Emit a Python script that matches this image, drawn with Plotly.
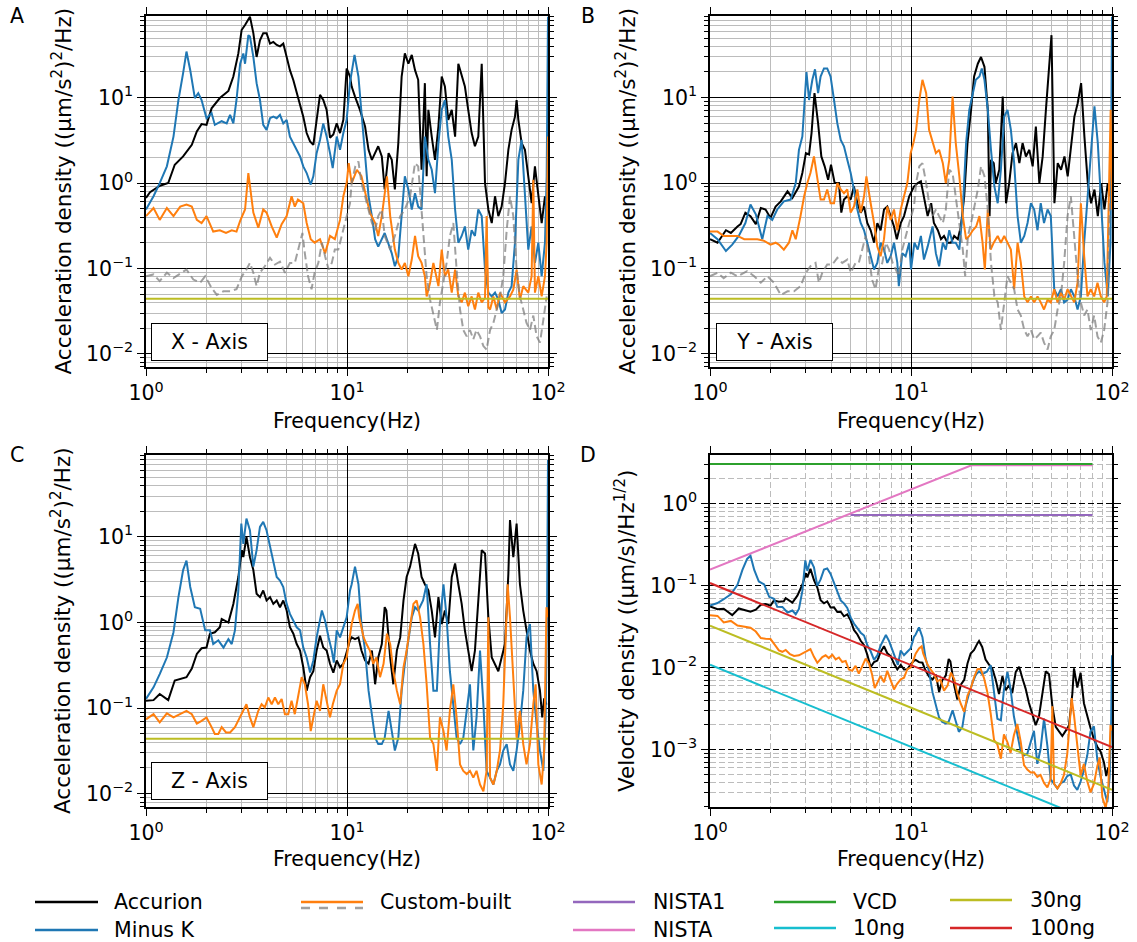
import numpy as np
import plotly.graph_objects as go

W, H = 1137, 942
FONT = "DejaVu Sans"

# line colours
C_ACC = "#000000"
C_MINK = "#1f77b4"
C_CUST = "#ff7f0e"
C_CUST2 = "rgba(128,128,128,0.75)"
C_NISTA1 = "#9467bd"
C_NISTA = "#e377c2"
C_VCD = "#2ca02c"
C_10 = "#17becf"
C_30 = "#bcbd22"
C_100 = "#d62728"

# ---------------- X axis: acceleration PSD ((um/s^2)^2/Hz), (frequency Hz, value) ----------------
x_accurion = [(1.0,0.67),(1.047,0.78),(1.174,0.93),(1.29,1.0),(1.39,1.64),(1.53,2.05),(1.69,2.81),(1.79,4.02),(1.89,4.9),(2.0,4.8),
    (2.12,7.5),(2.33,9.9),(2.57,12),(2.72,17.7),(2.88,33),(2.99,62),(3.11,71),(3.29,89),(3.42,57),(3.55,30),(3.69,47),(3.83,57),
    (3.98,57),(4.14,43),(4.3,45),(4.47,41.5),(4.64,40),(4.82,43),(5.01,30),(5.2,21),(5.41,16),(5.62,11.3),(5.84,8.6),(6.06,6.0),
    (6.3,3.85),(6.55,3.07),(6.8,2.8),(7.06,5.5),(7.34,10.8),(7.62,9.4),(7.92,7.2),(8.23,3.4),(8.55,3.7),(8.89,5.0),(9.23,3.85),
    (9.59,5.5),(9.96,22),(10.35,17.7),(10.55,13.5),(10.96,10.3),(11.6,7.2),(12.3,4.6),(12.8,2.45),(13.3,1.87),(13.8,2.24),(14.3,2.7),
    (14.9,2.05),(15.4,0.84),(16.1,2.24),(16.7,1.87),(17.3,0.84),(18.0,2.94),(18.7,17.7),(19.4,33),(20.2,25),(21.0,31.7),(21.8,21),
    (22.6,16.2),(23.5,1.43),(24.4,14.8),(24.9,1.2),(25.4,7.2),(26.4,3.5),(27.4,1.87),(28.5,4.6),(29.6,17.7),(30.7,13.5),(31.9,5.5),
    (33.2,7.2),(34.5,3.5),(35.8,25),(37.2,17.7),(38.6,13.5),(40.1,7.2),(41.7,3.85),(43.3,2.7),(45.0,3.5),(46.8,25),(48.6,1.0),
    (50.5,0.49),(52.5,0.34),(54.5,0.70),(56.6,0.41),(58.8,0.53),(61.1,1.0),(63.5,2.45),(65.9,4.2),(68.5,6.0),(69.8,9.4),(71.2,5.5),
    (73.9,2.94),(76.8,2.45),(79.8,1.2),(82.9,0.58),(86.1,1.57),(89.5,0.70),(93.0,0.34),(96.6,0.70),(99.6,0.41)]

x_minusk = [(1.0,0.49),(1.09,0.70),(1.17,1.0),(1.27,1.57),(1.37,3.5),(1.45,9.4),(1.53,19.4),(1.59,34.7),(1.66,21),(1.75,9.9),
    (1.82,11.3),(1.89,9.4),(2.0,5.75),(2.12,6.6),(2.2,4.8),(2.38,5.3),(2.52,5.0),(2.62,6.3),(2.72,5.0),(2.82,9.4),(2.94,25),(3.05,33),
    (3.11,25),(3.23,54),(3.29,52),(3.42,30),(3.55,14.8),(3.69,9.4),(3.83,4.8),(3.98,4.2),(4.14,5.75),(4.3,6.0),(4.47,5.75),(4.64,6.3),
    (4.82,5.0),(5.01,5.5),(5.2,3.5),(5.41,2.94),(5.62,2.45),(5.84,2.05),(6.06,1.57),(6.3,1.31),(6.6,0.96),(6.8,1.2),(7.06,2.24),
    (7.34,3.2),(7.62,5.0),(7.92,3.5),(8.23,2.24),(8.49,1.5),(8.89,3.5),(9.23,2.45),(9.59,3.85),(9.96,5.5),(10.35,15),(10.9,31.7),
    (11.4,17.7),(11.8,6.6),(12.3,2.24),(12.8,0.70),(13.3,0.41),(13.8,0.22),(14.3,0.18),(14.9,0.22),(15.4,0.26),(16.7,0.15),
    (17.3,0.106),(18.0,0.139),(18.7,0.41),(19.4,1.2),(20.2,0.84),(21.0,0.49),(21.8,0.76),(22.6,0.53),(23.5,0.49),(24.4,3.5),
    (25.4,1.87),(26.4,1.43),(27.4,0.76),(28.5,2.94),(29.6,7.2),(30.7,9.4),(31.9,3.5),(33.2,1.87),(34.5,0.49),(35.8,0.2),(37.2,0.24),
    (38.6,0.31),(40.1,0.166),(41.7,0.28),(43.3,0.24),(45.0,0.49),(46.8,0.41),(48.6,0.097),(50.5,0.052),(52.5,0.047),(54.5,0.052),
    (56.6,0.043),(58.8,0.030),(61.1,0.033),(63.5,0.052),(65.9,0.062),(68.5,0.2),(71.2,1.87),(73.9,3.2),(76.8,0.70),(79.8,0.166),
    (82.9,0.31),(86.1,0.116),(89.5,0.2),(93.0,0.081),(96.6,0.2),(98.5,1.2),(100,89)]

x_custom = [(1.0,0.41),(1.09,0.51),(1.17,0.37),(1.27,0.51),(1.37,0.41),(1.48,0.53),(1.59,0.56),(1.69,0.53),(1.79,0.37),(1.89,0.34),
    (2.0,0.41),(2.16,0.27),(2.33,0.28),(2.5,0.26),(2.67,0.28),(2.82,0.27),(2.94,0.36),(3.11,0.49),(3.23,1.31),(3.29,0.91),(3.42,0.45),
    (3.62,0.30),(3.83,0.49),(3.98,0.45),(4.22,0.31),(4.47,0.23),(4.73,0.33),(5.01,0.41),(5.3,0.70),(5.5,0.53),(5.7,0.64),(6.06,0.58),
    (6.3,0.34),(6.6,0.22),(6.9,0.2),(7.34,0.22),(7.78,0.15),(8.23,0.24),(8.7,0.22),(9.23,0.37),(9.59,0.70),(9.96,1.0),(10.2,1.71),
    (10.55,1.0),(11.2,1.43),(11.8,1.2),(12.3,0.76),(13.0,0.45),(13.8,0.34),(14.3,0.24),(14.9,0.41),(15.8,1.2),(16.4,0.41),(17.3,0.166),
    (18.0,0.116),(18.7,0.097),(19.4,0.116),(20.2,0.081),(21.0,0.127),(21.8,0.24),(22.6,0.139),(23.5,0.116),(24.4,0.081),(24.9,0.047),
    (25.9,0.068),(26.9,0.116),(28.5,0.062),(29.6,0.166),(30.7,0.081),(31.9,0.097),(33.2,0.052),(34.5,0.097),(35.8,0.047),(37.2,0.040),
    (38.6,0.052),(40.1,0.036),(41.7,0.047),(43.3,0.033),(45.0,0.052),(46.8,0.040),(48.6,0.045),(49.5,0.41),(50.5,0.035),(51.5,0.033),
    (53.5,0.047),(55.6,0.033),(57.7,0.052),(61.1,0.040),(64.7,0.047),(67.2,0.0565),(69.8,0.097),(72.5,0.043),(75.3,0.062),(79.8,0.052),
    (82.9,0.081),(84.5,1.09),(86.1,0.052),(89.5,0.081),(93.0,0.047),(96.6,0.081),(98.5,0.2),(100,3.5)]

x_custom_alt = [(1.0,0.081),(1.09,0.085),(1.17,0.071),(1.27,0.089),(1.37,0.077),(1.59,0.097),(1.72,0.074),(1.86,0.068),(1.97,0.081),
    (2.12,0.059),(2.25,0.049),(2.43,0.054),(2.62,0.054),(2.82,0.057),(3.0,0.081),(3.16,0.097),(3.29,0.116),(3.42,0.089),(3.55,0.062),
    (3.69,0.089),(3.9,0.106),(4.14,0.133),(4.38,0.111),(4.64,0.12),(4.91,0.089),(5.2,0.116),(5.5,0.116),(5.7,0.166),(6.0,0.26),
    (6.17,0.15),(6.4,0.081),(6.66,0.057),(6.9,0.089),(7.2,0.116),(7.5,0.2),(7.78,0.139),(8.1,0.097),(8.4,0.116),(8.7,0.166),
    (9.05,0.166),(9.4,0.24),(9.8,0.34),(10.35,0.58),(10.55,1.0),(11.0,1.57),(11.4,1.79),(11.8,1.0),(12.3,0.70),(12.8,0.49),(13.3,0.34),
    (13.8,0.28),(14.3,0.41),(14.9,0.49),(15.4,0.24),(16.4,0.166),(17.3,0.24),(18.4,0.41),(19.4,0.49),(20.6,0.70),(21.8,1.71),
    (22.6,1.57),(23.5,0.49),(24.9,0.081),(25.9,0.043),(26.9,0.028),(28.0,0.019),(29.0,0.040),(30.2,0.068),(31.3,0.116),(32.5,0.24),
    (33.8,0.34),(35.1,0.097),(36.5,0.033),(37.9,0.019),(39.4,0.016),(40.9,0.019),(42.5,0.0148),(44.1,0.019),(45.9,0.016),(47.7,0.0123),
    (49.5,0.0112),(51.5,0.019),(53.5,0.023),(55.6,0.033),(57.7,0.047),(59.9,0.081),(62.3,0.28),(64.7,0.70),(67.2,0.41),(69.8,0.097),
    (72.5,0.047),(75.3,0.033),(78.2,0.023),(81.3,0.019),(84.5,0.028),(87.8,0.016),(91.2,0.0135),(94.8,0.025),(98.5,0.047)]

# ---------------- Y axis ----------------
y_accurion = [(1.0,0.22),(1.09,0.2),(1.2,0.28),(1.27,0.26),(1.37,0.31),(1.42,0.33),(1.5,0.45),(1.59,0.41),(1.69,0.33),(1.79,0.51),
    (1.89,0.49),(2.0,0.39),(2.12,0.53),(2.25,0.61),(2.43,0.8),(2.57,0.67),(2.77,0.91),(2.88,1.31),(3.0,2.24),(3.11,2.16),(3.2,3.85),
    (3.31,11.3),(3.45,5.0),(3.58,2.05),(3.72,1.57),(3.87,1.09),(4.0,1.64),(4.17,1.0),(4.38,1.0),(4.5,0.45),(4.64,0.64),(4.82,0.7),
    (5.01,0.64),(5.2,0.91),(5.41,0.58),(5.62,0.45),(5.84,0.53),(6.06,0.34),(6.3,0.28),(6.55,0.2),(6.8,0.34),(7.06,0.28),(7.34,0.49),
    (7.62,0.53),(7.92,0.41),(8.23,0.31),(8.5,0.22),(8.89,0.34),(9.23,0.41),(9.8,0.7),(10.35,0.91),(10.8,1.0),(11.2,1.05),(11.6,0.70),
    (12.1,0.41),(12.6,0.58),(13.0,0.34),(13.6,0.28),(14.1,0.22),(14.6,0.24),(15.2,0.2),(15.8,0.2),(16.4,0.24),(17.1,0.22),(17.7,0.31),
    (18.4,0.70),(19.1,2.94),(19.9,7.2),(20.6,17.7),(21.5,25),(22.3,30),(23.2,23),(24.1,7.2),(24.6,0.41),(25.0,1.87),(25.8,1.71),
    (26.4,1.0),(27.5,1.43),(28.6,10.3),(29.7,0.58),(30.8,1.0),(32.0,2.24),(33.3,2.94),(34.6,1.71),(35.9,2.94),(37.3,2.05),(38.8,2.45),
    (40.3,1.57),(41.8,4.6),(43.5,1.0),(45.2,2.05),(46.9,7.2),(48.8,25),(50.0,54),(51.7,0.58),(53.7,1.71),(55.8,1.43),(58.0,2.05),
    (60.2,1.2),(62.6,2.94),(65.0,6.0),(67.5,8.6),(70.2,14.8),(72.9,3.5),(75.8,1.0),(78.7,0.58),(81.8,0.84),(85.0,0.41),(88.3,1.0),
    (91.7,0.49),(95.3,1.0),(97.6,0.7)]

y_minusk = [(1.0,0.26),(1.09,0.22),(1.2,0.16),(1.29,0.19),(1.39,0.24),(1.5,0.34),(1.59,0.56),(1.69,0.43),(1.82,0.22),(1.93,0.41),
    (2.04,0.37),(2.16,0.49),(2.33,0.61),(2.52,0.64),(2.67,1.0),(2.77,2.45),(2.88,3.5),(2.94,7.2),(3.02,20),(3.11,9.4),(3.23,16.2),
    (3.33,21.5),(3.45,11.3),(3.55,17.7),(3.69,22),(3.83,22),(3.98,17.7),(4.14,9.4),(4.3,5.0),(4.47,3.2),(4.64,2.7),(4.82,1.87),
    (5.01,1.31),(5.2,0.84),(5.41,0.49),(5.62,0.34),(5.84,0.28),(6.06,0.2),(6.3,0.139),(6.55,0.097),(6.8,0.116),(7.06,0.2),(7.34,0.166),
    (7.62,0.116),(7.92,0.139),(8.23,0.2),(8.55,0.116),(8.7,0.062),(9.05,0.15),(9.4,0.139),(9.8,0.2),(10.0,0.097),(10.4,0.2),(10.8,0.166),
    (11.2,0.24),(11.6,0.127),(12.1,0.18),(12.8,0.31),(13.3,0.15),(13.8,0.106),(14.4,0.2),(14.9,0.166),(15.5,0.28),(16.1,0.2),(16.7,0.2),
    (17.4,0.166),(18.1,0.49),(18.8,2.94),(19.5,7.2),(20.3,11.3),(21.0,16.2),(21.9,17.7),(22.5,22),(23.2,16.2),(24.1,7.2),(25.0,2.45),
    (26.0,0.91),(27.0,0.58),(28.0,1.43),(29.1,6.0),(30.2,7.2),(31.4,4.2),(32.6,1.71),(33.9,0.41),(35.2,0.2),(36.6,0.24),(38.0,0.34),
    (39.5,0.58),(41.0,0.49),(42.6,0.28),(44.2,0.58),(45.9,0.34),(47.8,0.49),(49.6,0.41),(51.6,0.057),(53.6,0.047),(55.7,0.057),
    (57.8,0.040),(60.1,0.043),(62.4,0.057),(64.9,0.047),(67.4,0.033),(70.0,0.047),(72.7,0.2),(77.2,1.2),(81.8,7.9),(85.0,2.94),
    (88.3,0.49),(91.7,0.116),(95.3,0.047),(98.3,0.2),(100,89)]

y_custom = [(1.0,0.27),(1.09,0.27),(1.17,0.24),(1.27,0.24),(1.37,0.24),(1.48,0.22),(1.59,0.22),(1.72,0.22),(1.86,0.21),(2.0,0.19),
    (2.12,0.2),(2.2,0.19),(2.33,0.166),(2.47,0.2),(2.57,0.28),(2.67,0.22),(2.82,0.41),(2.94,0.7),(3.05,1.0),(3.16,1.31),(3.29,2.05),
    (3.42,1.2),(3.55,0.64),(3.69,0.64),(3.83,0.84),(3.98,0.58),(4.14,0.58),(4.3,1.0),(4.47,0.84),(4.64,0.76),(4.82,0.84),(5.01,0.45),
    (5.2,0.53),(5.41,0.84),(5.62,0.45),(5.84,0.7),(6.0,1.2),(6.3,0.58),(6.55,0.34),(6.8,0.18),(7.06,0.139),(7.34,0.22),(7.62,0.53),
    (7.92,0.37),(8.23,0.49),(8.55,0.28),(8.89,0.49),(9.23,0.7),(9.59,1.0),(9.96,2.24),(10.3,3.0),(10.6,4.2),(11.0,9.4),(11.4,16.2),
    (11.9,11.3),(12.3,4.2),(12.8,2.94),(13.3,2.24),(13.8,2.45),(14.4,1.71),(14.9,1.0),(15.5,1.87),(16.1,10.3),(16.7,2.94),(17.4,1.2),
    (18.1,0.41),(18.8,0.22),(19.5,0.24),(20.3,0.28),(21.1,0.31),(21.9,0.41),(22.7,0.2),(23.3,0.097),(24.1,0.49),(24.9,0.166),
    (25.8,0.2),(27.0,0.24),(28.0,0.2),(29.1,0.24),(30.2,0.2),(31.4,0.166),(32.6,0.057),(33.9,0.2),(35.2,0.116),(36.6,0.047),
    (38.0,0.040),(39.5,0.047),(41.0,0.040),(42.6,0.047),(44.2,0.040),(45.9,0.033),(47.8,0.043),(49.6,0.040),(51.6,0.057),(53.6,0.040),
    (55.7,0.052),(57.8,0.043),(60.1,0.057),(62.4,0.047),(64.9,0.040),(67.4,0.068),(70.0,0.58),(72.7,0.139),(75.5,0.047),(78.4,0.057),
    (81.5,0.047),(84.7,0.068),(88.0,0.047),(91.4,0.040),(94.2,0.047),(96.9,1.2),(98.5,7.2),(100,0.49)]

y_custom_alt = [(1.0,0.081),(1.09,0.089),(1.17,0.077),(1.27,0.089),(1.37,0.081),(1.53,0.093),(1.66,0.081),(1.79,0.068),(1.93,0.081),
    (2.08,0.068),(2.25,0.049),(2.43,0.054),(2.62,0.054),(2.82,0.062),(3.0,0.089),(3.16,0.106),(3.35,0.116),(3.48,0.068),(3.62,0.089),
    (3.83,0.111),(4.06,0.111),(4.3,0.133),(4.55,0.116),(4.82,0.127),(5.01,0.089),(5.3,0.116),(5.5,0.116),(5.7,0.166),(5.95,0.24),
    (6.17,0.139),(6.4,0.074),(6.66,0.057),(6.9,0.097),(7.2,0.116),(7.5,0.2),(7.78,0.166),(8.1,0.116),(8.4,0.097),(8.7,0.081),
    (9.05,0.166),(9.4,0.24),(9.8,0.34),(10.35,0.53),(10.6,1.0),(11.0,1.57),(11.4,1.71),(11.9,1.0),(12.3,0.58),(12.8,0.41),(13.3,0.49),
    (13.8,0.41),(14.4,0.34),(14.9,0.49),(15.5,1.43),(16.1,1.31),(16.7,0.7),(17.4,0.34),(18.1,0.166),(18.6,0.081),(19.2,0.24),
    (19.9,0.34),(20.6,0.49),(21.5,0.84),(22.3,1.57),(23.2,1.2),(24.1,0.49),(25.0,0.116),(26.0,0.047),(27.0,0.040),(28.0,0.019),
    (29.1,0.040),(30.2,0.081),(31.4,0.068),(32.6,0.057),(33.9,0.033),(35.2,0.028),(36.6,0.019),(38.0,0.016),(39.5,0.019),(41.0,0.0148),
    (42.6,0.016),(44.2,0.0177),(45.9,0.0135),(47.8,0.0112),(49.6,0.016),(51.6,0.019),(53.6,0.033),(55.7,0.047),(57.8,0.116),
    (60.1,0.41),(62.4,0.7),(64.9,0.24),(67.4,0.081),(70.0,0.040),(72.7,0.028),(75.5,0.033),(78.4,0.019),(81.5,0.028),(84.7,0.016),
    (88.0,0.0135),(91.4,0.019),(95.0,0.040),(97.5,0.58)]

# ---------------- Z axis ----------------
z_accurion = [(1.0,0.122),(1.09,0.124),(1.17,0.146),(1.29,0.124),(1.39,0.21),(1.48,0.22),(1.59,0.23),(1.69,0.29),(1.79,0.43),
    (1.89,0.50),(2.0,0.51),(2.08,0.74),(2.2,0.77),(2.33,0.88),(2.38,1.1),(2.57,1.0),(2.72,1.65),(2.88,3.4),(3.0,7.0),(3.05,5.8),
    (3.16,10),(3.29,5.8),(3.42,4.1),(3.55,2.17),(3.69,1.98),(3.83,2.37),(3.98,1.81),(4.14,1.98),(4.3,1.65),(4.47,1.81),(4.64,1.51),
    (4.82,1.81),(5.01,1.38),(5.2,0.88),(5.41,0.74),(5.62,0.56),(5.84,0.47),(6.06,0.30),(6.3,0.16),(6.55,0.23),(6.8,0.27),(7.06,0.47),
    (7.34,0.70),(7.62,0.51),(7.92,0.47),(8.23,0.33),(8.55,0.26),(8.89,0.36),(9.23,0.30),(9.59,0.33),(9.96,0.47),(10.35,0.62),
    (10.55,0.67),(10.96,0.64),(11.4,0.67),(11.8,0.47),(12.3,0.36),(12.8,0.33),(13.3,0.47),(13.8,0.19),(14.3,0.39),(14.9,0.56),
    (15.4,1.51),(15.7,1.38),(16.4,0.39),(17.0,0.19),(17.7,0.47),(18.4,0.67),(19.1,1.81),(19.8,3.4),(20.6,4.5),(21.4,7.0),(21.8,8.3),
    (22.6,6.4),(23.5,3.4),(24.4,2.8),(25.4,2.37),(26.4,1.38),(27.4,0.67),(28.5,1.98),(29.6,0.96),(30.7,1.38),(31.9,0.96),(33.2,3.4),
    (34.5,4.9),(35.8,2.8),(37.2,1.65),(38.6,0.81),(40.1,0.47),(41.7,0.27),(43.3,0.47),(45.0,1.65),(46.8,7.0),(48.6,6.4),(50.5,1.15),
    (52.5,0.39),(54.5,0.33),(56.6,0.27),(58.8,0.39),(61.1,0.56),(63.5,3.7),(64.7,15.7),(67.2,5.8),(69.8,14.3),(72.5,2.8),(75.3,1.38),
    (78.2,0.81),(81.3,0.47),(84.5,0.33),(87.8,0.27),(91.2,0.16),(93.6,0.078),(95.7,0.13),(98.3,0.11)]

z_minusk = [(1.0,0.128),(1.09,0.175),(1.17,0.25),(1.27,0.39),(1.37,0.77),(1.45,1.98),(1.53,4.1),(1.59,5.3),(1.66,2.6),(1.75,1.51),
    (1.86,1.45),(1.97,0.81),(2.08,0.81),(2.16,0.56),(2.29,0.62),(2.43,0.51),(2.57,0.64),(2.67,0.56),(2.77,0.81),(2.88,2.37),(2.98,14.3),
    (3.05,8.3),(3.16,16.4),(3.29,11.9),(3.42,4.5),(3.55,7.0),(3.69,13.1),(3.83,15),(3.98,11.9),(4.14,7.6),(4.3,4.9),(4.47,3.4),
    (4.64,3.1),(4.82,2.6),(5.01,1.65),(5.2,1.26),(5.41,1.05),(5.62,0.88),(5.84,0.81),(6.06,0.51),(6.3,0.39),(6.55,0.26),(6.8,0.36),
    (7.06,0.67),(7.5,1.38),(7.78,1.05),(8.1,0.67),(8.4,0.47),(8.6,0.34),(8.89,0.81),(9.23,0.67),(9.59,0.88),(9.96,1.15),(10.35,2.37),
    (10.55,2.8),(10.96,4.5),(11.4,2.8),(11.8,0.96),(12.3,0.47),(12.8,0.16),(13.3,0.078),(13.8,0.045),(14.3,0.038),(14.9,0.038),
    (15.4,0.045),(16.1,0.093),(16.7,0.054),(17.3,0.032),(18.0,0.045),(18.7,0.16),(19.4,0.33),(20.2,0.67),(21.0,1.15),(21.8,1.51),
    (22.6,1.38),(23.9,1.81),(24.9,2.8),(25.9,0.56),(26.9,0.16),(28.0,0.16),(29.0,0.96),(30.2,2.8),(31.3,1.15),(32.5,0.27),(33.8,0.11),
    (35.1,0.045),(36.5,0.038),(37.9,0.045),(39.4,0.093),(40.9,0.19),(42.5,0.032),(44.1,0.078),(45.9,0.47),(47.7,0.11),(49.5,0.0185),
    (51.5,0.0154),(53.5,0.0128),(55.6,0.0185),(57.7,0.022),(59.9,0.032),(62.3,0.038),(64.7,0.022),(67.2,0.0185),(69.8,0.032),
    (72.5,0.065),(75.3,0.16),(78.2,0.67),(81.3,0.96),(84.5,0.16),(87.8,0.065),(91.2,0.032),(94.8,0.0185),(97.3,0.078),(99.0,1.65),
    (100,79)]

z_custom = [(1.0,0.074),(1.09,0.085),(1.17,0.068),(1.27,0.087),(1.37,0.078),(1.48,0.085),(1.59,0.093),(1.69,0.085),(1.79,0.066),
    (1.89,0.071),(2.0,0.078),(2.12,0.060),(2.2,0.050),(2.29,0.050),(2.38,0.060),(2.5,0.052),(2.62,0.052),(2.77,0.060),(2.94,0.078),
    (3.05,0.093),(3.16,0.111),(3.29,0.078),(3.42,0.060),(3.62,0.093),(3.76,0.111),(3.9,0.102),(4.06,0.133),(4.22,0.111),(4.38,0.133),
    (4.55,0.111),(4.73,0.128),(4.91,0.085),(5.1,0.085),(5.3,0.122),(5.5,0.085),(5.7,0.133),(5.95,0.23),(6.17,0.19),(6.4,0.111),
    (6.6,0.054),(6.8,0.078),(7.06,0.122),(7.34,0.093),(7.62,0.19),(7.92,0.122),(8.23,0.078),(8.5,0.111),(8.89,0.16),(9.23,0.19),
    (9.59,0.33),(9.96,0.39),(10.35,0.67),(10.55,0.96),(10.96,1.38),(11.3,1.65),(11.5,1.15),(12.1,0.67),(12.5,0.56),(13.0,0.47),
    (13.5,0.33),(14.0,0.39),(14.6,0.23),(15.2,0.33),(15.8,0.74),(16.4,0.56),(17.0,0.27),(17.7,0.16),(18.4,0.111),(19.1,0.30),
    (19.8,0.47),(20.6,0.96),(21.4,1.65),(22.2,1.81),(23.1,1.15),(24.0,0.56),(24.9,0.19),(25.9,0.045),(26.9,0.038),(28.0,0.0185),
    (29.0,0.078),(30.2,0.054),(31.3,0.032),(32.5,0.093),(33.8,0.19),(35.1,0.078),(36.5,0.022),(37.9,0.0185),(39.4,0.017),
    (40.9,0.0185),(42.5,0.0154),(44.1,0.0185),(45.9,0.0128),(47.7,0.0107),(49.5,0.0185),(50.5,1.15),(51.5,0.0154),(53.5,0.0128),
    (55.6,0.0185),(57.7,0.032),(59.9,0.111),(61.6,0.67),(63.0,2.8),(64.7,1.15),(67.2,0.19),(69.8,0.045),(72.5,0.093),(75.3,0.038),
    (78.2,0.022),(81.3,0.038),(84.5,0.111),(86.8,0.19),(89.5,0.022),(93.0,0.0128),(95.7,0.032),(98.3,1.51),(100,1.15)]

# 30 ng level as acceleration PSD
psd_30ng = [(1, 0.044), (100, 0.044)]

# criteria curves for the velocity panel, (µm/s)/Hz^1/2
crit_nista1 = [(5, 0.72), (80, 0.72)]
crit_nista = [(1, 0.156), (20, 2.92), (80, 2.92)]
crit_vcd = [(1, 3.03), (80, 3.03)]
crit_10ng = [(1, 0.0108), (100, 0.000108)]
crit_30ng = [(1, 0.0324), (100, 0.000324)]
crit_100ng = [(1, 0.107), (100, 0.00107)]

fig = go.Figure()


def add_line(pairs, color, n, dash=None, name=None, width=2.0):
    f, v = zip(*pairs)
    sfx = "" if n == 1 else str(n)
    fig.add_trace(go.Scatter(x=list(f), y=list(v), mode="lines", name=name,
                             line=dict(color=color, width=width, dash=dash),
                             xaxis="x" + sfx, yaxis="y" + sfx,
                             showlegend=False, hoverinfo="skip"))


def velocity(pairs):
    # velocity spectral density from acceleration PSD: sqrt(PSD) / (2 pi f)
    f = np.array([p[0] for p in pairs])
    psd = np.array([p[1] for p in pairs])
    return list(zip(f, np.sqrt(psd) / (2 * np.pi * f)))


DASH_GRAY = "8px,4px"

# panels A-C: acceleration density
for n, (acc, mk, cu, cu2) in enumerate([
        (x_accurion, x_minusk, x_custom, x_custom_alt),
        (y_accurion, y_minusk, y_custom, y_custom_alt),
        (z_accurion, z_minusk, z_custom, None)], start=1):
    add_line(acc, C_ACC, n, name="Accurion")
    add_line(mk, C_MINK, n, name="Minus K")
    add_line(cu, C_CUST, n, name="Custom-built")
    if cu2 is not None:
        add_line(cu2, C_CUST2, n, dash=DASH_GRAY, name="Custom-built")
    add_line(psd_30ng, C_30, n, name="30ng")

# panel D: velocity density of the Z axis with criteria
add_line(velocity(z_accurion), C_ACC, 4, name="Accurion")
add_line(velocity(z_minusk), C_MINK, 4, name="Minus K")
add_line(velocity(z_custom), C_CUST, 4, name="Custom-built")
add_line(crit_nista1, C_NISTA1, 4, name="NISTA1")
add_line(crit_nista, C_NISTA, 4, name="NISTA")
add_line(crit_vcd, C_VCD, 4, name="VCD")
add_line(crit_10ng, C_10, 4, name="10ng")
add_line(crit_30ng, C_30, 4, name="30ng")
add_line(crit_100ng, C_100, 4, name="100ng")

# ---------------- axes ----------------
def sup(e):
    s = str(e).replace("-", "\u2212")
    return f"10<sup>{s}</sup>"


def minor_vals(lo, hi):
    return [m * 10.0 ** e for e in range(lo, hi) for m in range(2, 10)]


tickfont = dict(family=FONT, size=20.5, color="black")


def axis_pair(n, xpx, ypx, yrange, yexp, dashed):
    sfx = "" if n == 1 else str(n)
    gdash = "6px,3px" if dashed else "solid"
    major_grid = "black"
    minor_grid = "#bcbcbc"
    base = dict(type="log", showline=True, linecolor="black", linewidth=1.5, mirror="allticks",
                ticks="outside", ticklen=7, tickwidth=1.3, tickcolor="black",
                showgrid=True, gridcolor=major_grid, gridwidth=1, griddash=gdash,
                zeroline=False, automargin=False, tickfont=tickfont, tickmode="array")
    xa = dict(base, domain=[xpx[0] / W, xpx[1] / W], range=[0, 2],
              tickvals=[1, 10, 100], ticktext=[sup(0), sup(1), sup(2)],
              anchor="y" + sfx,
              minor=dict(tickvals=minor_vals(0, 2), ticks="outside", ticklen=4, tickwidth=1,
                         tickcolor="black", showgrid=True, gridcolor=minor_grid, gridwidth=1,
                         griddash=gdash))
    ya = dict(base, domain=[1 - ypx[1] / H, 1 - ypx[0] / H], range=yrange,
              tickvals=[10.0 ** e for e in yexp], ticktext=[sup(e) for e in yexp],
              anchor="x" + sfx,
              minor=dict(tickvals=minor_vals(int(np.floor(yrange[0])), int(np.ceil(yrange[1]))),
                         ticks="outside", ticklen=4, tickwidth=1,
                         tickcolor="black", showgrid=True, gridcolor=minor_grid, gridwidth=1,
                         griddash=gdash))
    fig.update_layout({"xaxis" + sfx: xa, "yaxis" + sfx: ya})


ACC_RANGE = [-2.155, 1.957]
axis_pair(1, (146, 548), (16, 367), ACC_RANGE, [-2, -1, 0, 1], False)
axis_pair(2, (710, 1112), (16, 367), ACC_RANGE, [-2, -1, 0, 1], False)
axis_pair(3, (146, 548), (455, 807), ACC_RANGE, [-2, -1, 0, 1], False)
axis_pair(4, (710, 1112), (455, 807), [-3.70, 0.59], [-3, -2, -1, 0], True)

# ---------------- text ----------------
annotations = []


def text_at(txt, xpx, ypx, angle=0, xanchor="center", size=20.5, **kw):
    annotations.append(dict(text=txt, x=xpx / W, y=1 - ypx / H, xref="paper", yref="paper",
                            showarrow=False, textangle=angle, xanchor=xanchor, yanchor="middle",
                            font=dict(family=FONT, size=size, color="black"), **kw))


acc_title = "Acceleration density ((\u00b5m/s<sup>2</sup>)<sup>2</sup>/Hz)"
vel_title = "Velocity density ((\u00b5m/s)/Hz<sup>1/2</sup>)"
text_at(acc_title, 61, 191.5, angle=-90, size=21.5)
text_at(acc_title, 625, 191.5, angle=-90, size=21.5)
text_at(acc_title, 61, 631, angle=-90, size=21.5)
text_at(vel_title, 625, 631, angle=-90, size=21.5)
for cx, cy in [(347, 421), (911, 421), (347, 859), (911, 859)]:
    text_at("Frequency(Hz)", cx, cy)
for lab, cx, cy in [("A", 17, 16), ("B", 588, 16), ("C", 17, 455), ("D", 588, 455)]:
    text_at(lab, cx, cy)
for lab, cx, cy in [("X - Axis", 209, 342), ("Y - Axis", 774, 342), ("Z - Axis", 209, 781)]:
    text_at(lab, cx, cy, bordercolor="black", borderwidth=1, borderpad=2,
            bgcolor="white", width=111, height=32)

# ---------------- legend ----------------
shapes = []
legend_rows = [
    ("Accurion", [(C_ACC, None, 0)], 35, 98, 112, 902),
    ("Minus K", [(C_MINK, None, 0)], 35, 98, 112, 930),
    ("Custom-built", [(C_CUST, None, 0), (C_CUST2, "dash", 6)], 301, 363, 378, 902),
    ("NISTA1", [(C_NISTA1, None, 0)], 573, 635, 651, 902),
    ("NISTA", [(C_NISTA, None, 0)], 573, 635, 651, 930),
    ("VCD", [(C_VCD, None, 0)], 774, 836, 851, 902),
    ("10ng", [(C_10, None, 0)], 774, 836, 851, 928),
    ("30ng", [(C_30, None, 0)], 950, 1012, 1028, 900),
    ("100ng", [(C_100, None, 0)], 950, 1012, 1028, 928),
]
for label, handles, x0, x1, tx, ty in legend_rows:
    for color, dash, dy in handles:
        shapes.append(dict(type="line", xref="paper", yref="paper",
                           x0=x0 / W, x1=x1 / W, y0=1 - (ty + dy) / H, y1=1 - (ty + dy) / H,
                           line=dict(color=color, width=2.5, dash=dash)))
    text_at(label, tx, ty, xanchor="left")

fig.update_layout(
    width=W, height=H,
    margin=dict(l=0, r=0, t=0, b=0),
    paper_bgcolor="white", plot_bgcolor="white",
    showlegend=False,
    annotations=annotations,
    shapes=shapes,
    font=dict(family=FONT, size=20, color="black"),
)

fig.write_html("out.html")
